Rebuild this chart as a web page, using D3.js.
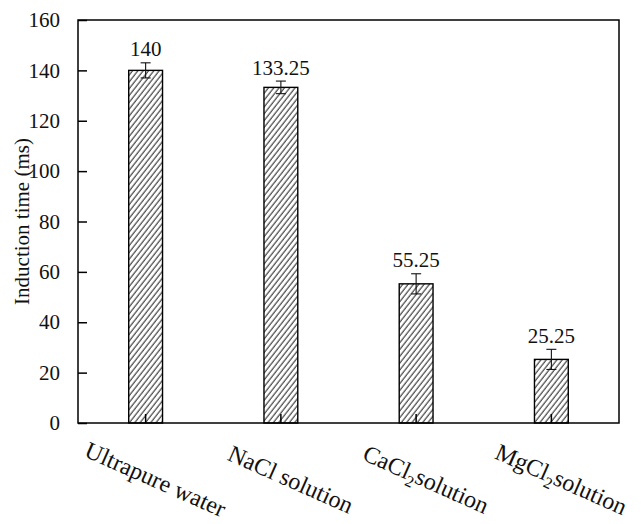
<!DOCTYPE html>
<html>
<head>
<meta charset="utf-8">
<script src="https://cdn.jsdelivr.net/npm/d3@7"></script>
<style>
  html, body { margin: 0; padding: 0; background: #fff; }
  svg { display: block; }
  text { font-family: "Liberation Serif", "Times New Roman", serif; fill: #111; }
</style>
</head>
<body>
<svg id="chart" width="641" height="524"></svg>
<script>
// Induction time by solution type
const categories = ["Ultrapure water", "NaCl solution", "CaCl2 solution", "MgCl2 solution"];
const values = [140, 133.25, 55.25, 25.25];
const errors = [3, 2.5, 4, 4];
const yTicks = [0, 20, 40, 60, 80, 100, 120, 140, 160];

const plot = { left: 78, right: 619, top: 20, bottom: 423 };

const svg = d3.select("#chart");

// diagonal hatch fill for the bars
const defs = svg.append("defs");
const pat = defs.append("pattern")
  .attr("id", "hatch")
  .attr("patternUnits", "userSpaceOnUse")
  .attr("width", 4.2).attr("height", 10)
  .attr("patternTransform", "rotate(38)");
pat.append("rect").attr("width", 4.2).attr("height", 10).attr("fill", "#fff");
pat.append("line")
  .attr("x1", 1).attr("y1", 0).attr("x2", 1).attr("y2", 10)
  .attr("stroke", "#333").attr("stroke-width", 1.1);

const x = d3.scaleBand()
  .domain(categories)
  .range([plot.left, plot.right])
  .paddingInner(0.75)
  .paddingOuter(0.375);

const y = d3.scaleLinear()
  .domain([0, 160])
  .range([plot.bottom, plot.top]);

const data = categories.map((c, i) => ({ c, v: values[i], e: errors[i] }));

// bars
svg.append("g").selectAll("rect")
  .data(data).join("rect")
  .attr("x", d => x(d.c))
  .attr("y", d => y(d.v))
  .attr("width", x.bandwidth())
  .attr("height", d => y(0) - y(d.v))
  .attr("fill", "url(#hatch)")
  .attr("stroke", "#000")
  .attr("stroke-width", 1.4);

// error bars
const eb = svg.append("g").attr("stroke", "#111").attr("stroke-width", 1.1);
data.forEach(d => {
  const cx = x(d.c) + x.bandwidth() / 2;
  eb.append("line").attr("x1", cx).attr("x2", cx).attr("y1", y(d.v + d.e)).attr("y2", y(d.v - d.e));
  eb.append("line").attr("x1", cx - 5).attr("x2", cx + 5).attr("y1", y(d.v + d.e)).attr("y2", y(d.v + d.e));
  eb.append("line").attr("x1", cx - 5).attr("x2", cx + 5).attr("y1", y(d.v - d.e)).attr("y2", y(d.v - d.e));
});

// value labels
svg.append("g").selectAll("text")
  .data(data).join("text")
  .attr("x", d => x(d.c) + x.bandwidth() / 2)
  .attr("y", d => y(d.v + d.e) - 6.5)
  .attr("text-anchor", "middle")
  .attr("font-size", 21)
  .text(d => String(d.v));

// frame
svg.append("rect")
  .attr("x", plot.left).attr("y", plot.top)
  .attr("width", plot.right - plot.left).attr("height", plot.bottom - plot.top)
  .attr("fill", "none").attr("stroke", "#000").attr("stroke-width", 1.5);

// y axis (ticks point inward)
const yAxis = d3.axisLeft(y).tickValues(yTicks).tickSizeInner(-9).tickSizeOuter(0).tickPadding(18);
const gy = svg.append("g").attr("transform", `translate(${plot.left},0)`).call(yAxis);
gy.select(".domain").remove();
gy.selectAll(".tick line").attr("stroke", "#000").attr("stroke-width", 1.5);
gy.selectAll(".tick text")
  .attr("font-family", "Liberation Serif, Times New Roman, serif")
  .attr("font-size", 21).attr("fill", "#111");

// x axis ticks (inward, at bar centres)
const xAxis = d3.axisBottom(x).tickSizeInner(-9).tickSizeOuter(0).tickFormat("");
const gx = svg.append("g").attr("transform", `translate(0,${plot.bottom})`).call(xAxis);
gx.select(".domain").remove();
gx.selectAll(".tick line").attr("stroke", "#000").attr("stroke-width", 1.5);

// rotated category labels, with subscripts for chlorides
const labelParts = {
  "Ultrapure water": [["Ultrapure water", false]],
  "NaCl solution": [["NaCl solution", false]],
  "CaCl2 solution": [["CaCl", false], ["2", true], ["solution", false]],
  "MgCl2 solution": [["MgCl", false], ["2", true], ["solution", false]]
};
const xl = svg.append("g");
categories.forEach(c => {
  const cx = x(c) + x.bandwidth() / 2 + 10;
  const cy = 479;
  const t = xl.append("text")
    .attr("transform", `translate(${cx},${cy}) rotate(24)`)
    .attr("text-anchor", "middle")
    .attr("dy", "0.35em")
    .attr("font-size", 24);
  labelParts[c].forEach(([s, sub]) => {
    const ts = t.append("tspan").text(s);
    if (sub) ts.attr("font-size", 16).attr("baseline-shift", "-35%");
  });
});

// y axis title
svg.append("text")
  .attr("transform", `translate(22,${(plot.top + plot.bottom) / 2}) rotate(-90)`)
  .attr("text-anchor", "middle")
  .attr("dy", "0.35em")
  .attr("font-size", 21)
  .text("Induction time (ms)");
</script>
</body>
</html>
